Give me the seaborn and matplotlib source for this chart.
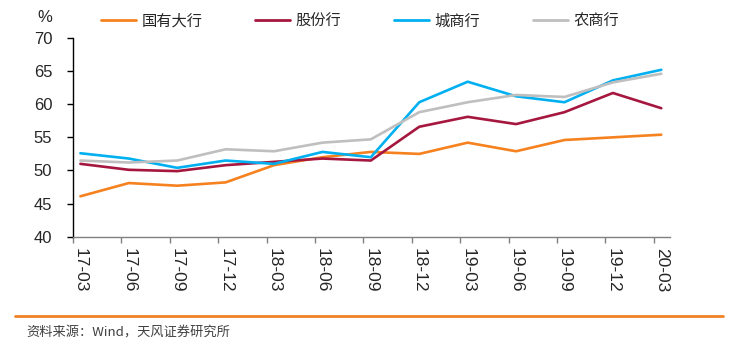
import numpy as np
import pandas as pd
import matplotlib
matplotlib.use("Agg")
import matplotlib.pyplot as plt
import seaborn as sns
from matplotlib.lines import Line2D

quarters = ["17-03", "17-06", "17-09", "17-12", "18-03", "18-06", "18-09",
            "18-12", "19-03", "19-06", "19-09", "19-12", "20-03"]
big_state = [46.1, 48.1, 47.7, 48.2, 50.8, 52.0, 52.8, 52.5, 54.2, 52.9, 54.6, 55.0, 55.4]
joint_stock = [51.0, 50.1, 49.9, 50.8, 51.3, 51.8, 51.5, 56.6, 58.1, 57.0, 58.8, 61.7, 59.4]
city_comm = [52.6, 51.8, 50.4, 51.5, 51.0, 52.8, 52.0, 60.3, 63.4, 61.2, 60.3, 63.6, 65.2]
rural_comm = [51.5, 51.2, 51.5, 53.2, 52.9, 54.2, 54.7, 58.8, 60.3, 61.4, 61.1, 63.3, 64.6]

series_names = ["国有大行", "股份行", "城商行", "农商行"]
colors = ["#F5821F", "#A5173F", "#00B0F0", "#BFBFBF"]

df = pd.concat([
    pd.DataFrame({"idx": np.arange(len(quarters)), "value": vals, "series": name})
    for name, vals in zip(series_names, [big_state, joint_stock, city_comm, rural_comm])
])

sns.set_theme(style="white")
plt.rcParams['font.family'] = ['Liberation Sans', 'Noto Sans CJK SC', 'DejaVu Sans']

W, H = 739, 347
fig = plt.figure(figsize=(W / 100, H / 100), dpi=100)
ax = fig.add_axes([73 / W, 1 - 236.7 / H, (670 - 73) / W, (236.7 - 38) / H])

sns.lineplot(data=df, x="idx", y="value", hue="series", hue_order=series_names,
             palette=colors, linewidth=1.9, ax=ax, legend=False)

ax.set_ylim(40, 70)
ax.set_yticks(np.arange(40, 71, 5))
ax.set_xlim(-0.153, 12.18)
off = 0.153
ax.set_xticks(np.arange(len(quarters)) - off)
ax.set_xticklabels([])
ax.set_xticks(np.arange(len(quarters)), minor=True)
ax.set_xticklabels(quarters, minor=True, rotation=270, fontsize=12.5)
ax.tick_params(axis="x", which="major", length=4, width=1, color="#808080", direction="out", bottom=True)
ax.tick_params(axis="x", which="minor", length=0, pad=8)
ax.tick_params(axis="y", which="major", length=4, width=1, color="black", direction="out",
               left=True, labelsize=12, pad=11)
ax.set_xlabel("")
ax.set_ylabel("")
for s in ["top", "right"]:
    ax.spines[s].set_visible(False)
ax.spines["left"].set_color("black")
ax.spines["left"].set_linewidth(1)
ax.spines["bottom"].set_color("#808080")
ax.spines["bottom"].set_linewidth(1)
ax.grid(False)

fig.text(45 / W, 1 - 18 / H, "%", fontsize=12, ha="center", va="center")

handles = [Line2D([0], [0], color=c, lw=2) for c in colors]
fig.legend(handles, series_names, loc="center left", bbox_to_anchor=(101 / W, 1 - 21 / H),
           ncol=4, frameon=False, handlelength=2.3, handletextpad=0.35,
           columnspacing=3.45, borderaxespad=0, borderpad=0,
           prop={"family": ["Noto Sans CJK SC"], "size": 11})

fig.add_artist(Line2D([15 / W, 723 / W], [1 - 316 / H, 1 - 316 / H], color="#F08226", lw=2,
                      transform=fig.transFigure))
fig.text(26 / W, 1 - 333 / H, "资料来源：Wind，天风证券研究所", fontsize=9.5, color="#404040",
         ha="left", va="center", family=["Noto Sans CJK SC", "DejaVu Sans"])

fig.savefig("out.png", dpi=100)
